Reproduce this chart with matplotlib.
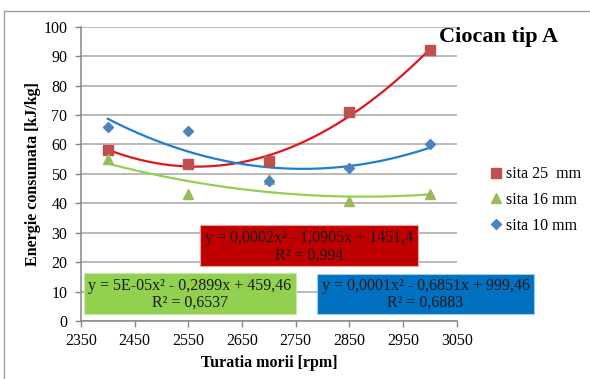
import numpy as np
import matplotlib
matplotlib.use("Agg")
import matplotlib.pyplot as plt
from matplotlib.lines import Line2D
from matplotlib.patches import Rectangle

plt.rcParams['font.family'] = ['Liberation Serif', 'DejaVu Serif']

# Mill speed [rpm] and specific energy consumption [kJ/kg]
turatia = [2400, 2550, 2700, 2850, 3000]
sita_25 = [58.0, 53.5, 54.5, 71.0, 92.0]
sita_16 = [55.0, 43.0, 48.3, 40.8, 43.0]
sita_10 = [66.0, 64.5, 47.5, 52.0, 60.0]

series_labels = ['sita 25  mm', 'sita 16 mm', 'sita 10 mm']
x_ticks = [2350, 2450, 2550, 2650, 2750, 2850, 2950, 3050]
y_ticks = [0, 10, 20, 30, 40, 50, 60, 70, 80, 90, 100]

eq_25 = "y = 0,0002x² - 1,0905x + 1451,4\nR² = 0,994"
eq_16 = "y = 5E-05x² - 0,2899x + 459,46\nR² = 0,6537"
eq_10 = "y = 0,0001x² - 0,6851x + 999,46\nR² = 0,6883"

W, H = 590, 379
fig = plt.figure(figsize=(W / 100, H / 100), dpi=100)


def fx(px):
    return px / W


def fy(py):
    return 1 - py / H


ax = fig.add_axes([fx(81), fy(321), fx(456.7) - fx(81), fy(26.7) - fy(321)])

grid_c = '#A6A6A6'
axis_c = '#868686'

marker_styles = [
    dict(marker='s', color='#C0504D', ms=7.6),
    dict(marker='^', color='#9BBB59', ms=7.0),
    dict(marker='D', color='#4F81BD', ms=5.2),
]
trend_colors = ['#E0161C', '#92D050', '#1C7FD0']
all_series = [sita_25, sita_16, sita_10]

xs = np.array(turatia, dtype=float)
xfine = np.linspace(xs.min(), xs.max(), 200)
handles = []
for ys, st, tc in zip(all_series, marker_styles, trend_colors):
    # second-order polynomial trend line through the measured points
    coef = np.polyfit(xs, ys, 2)
    ax.plot(xfine, np.polyval(coef, xfine), color=tc, lw=1.6, zorder=3)
for ys, st, lab in zip(all_series, marker_styles, series_labels):
    h, = ax.plot(xs, ys, linestyle='none', marker=st['marker'],
                 color=st['color'], markersize=st['ms'], zorder=4, label=lab)
    handles.append(h)

ax.set_xlim(2350, 3050)
ax.set_ylim(0, 100)
ax.set_xticks(x_ticks)
ax.set_yticks(y_ticks)
ax.yaxis.grid(True, color=grid_c, lw=1.1, zorder=0)
ax.set_axisbelow(True)
for s in ['top', 'right']:
    ax.spines[s].set_visible(False)
for s in ['left', 'bottom']:
    ax.spines[s].set_color(axis_c)
    ax.spines[s].set_linewidth(1.1)
ax.tick_params(axis='both', colors=axis_c, labelcolor='black',
               labelsize=11.5, length=4.3, width=1.0)
ax.tick_params(axis='y', pad=5.5)
ax.tick_params(axis='x', pad=4)

ax.set_xlabel('Turatia morii [rpm]', fontsize=11.5, fontweight='bold', labelpad=5)
ax.set_ylabel('Energie consumata [kJ/kg]', fontsize=11.5, fontweight='bold', labelpad=2)

fig.text(fx(439), fy(37), 'Ciocan tip A', fontsize=16, fontweight='bold',
         ha='left', va='center')

# equation boxes for the trend lines
boxes = [
    (200, 225, 418, 266, '#C00000', '#E8A0A0', eq_25, 238, 256),
    (84, 273, 296, 314, '#92D050', '#C8E8A8', eq_16, 286, 303),
    (317, 274, 534, 314, '#0070C0', '#9CCCF0', eq_10, 286, 303),
]
for x0, y0, x1, y1, fc, ec, txt, l1, l2 in boxes:
    fig.add_artist(Rectangle((fx(x0), fy(y1)), fx(x1) - fx(x0), fy(y0) - fy(y1),
                             transform=fig.transFigure, facecolor=fc,
                             edgecolor=ec, lw=0.8, zorder=5))
    line1, line2 = txt.split('\n')
    cx = fx((x0 + x1) / 2)
    fig.text(cx, fy(l1), line1, ha='center', va='center', fontsize=11.5,
             color='#1a1a1a', zorder=6)
    fig.text(cx, fy(l2), line2, ha='center', va='center', fontsize=11.5,
             color='#1a1a1a', zorder=6)

fig.legend(handles=handles, loc='center left',
           bbox_to_anchor=(fx(490), fy(200)), frameon=False, fontsize=11.5,
           handlelength=0.7, handletextpad=0.3, labelspacing=0.6,
           borderaxespad=0, borderpad=0, numpoints=1)

# chart border
fig.add_artist(Line2D([fx(4), fx(4)], [0, fy(11)], transform=fig.transFigure,
                      color='#A0A0A0', lw=1.0))
fig.add_artist(Line2D([fx(4), 1], [fy(11), fy(11)], transform=fig.transFigure,
                      color='#A0A0A0', lw=1.0))

fig.savefig('out.png', dpi=100)
